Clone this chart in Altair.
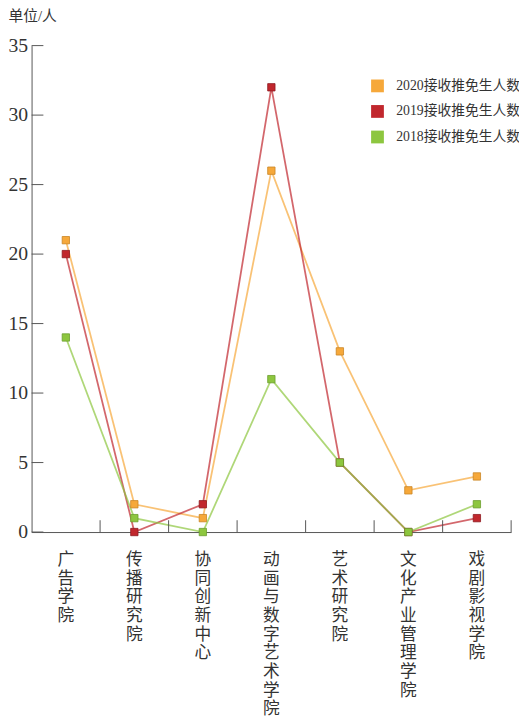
import altair as alt
import pandas as pd

# x categories, left to right
colleges = ["广告学院", "传播研究院", "协同创新中心", "动画与数字艺术学院",
            "艺术研究院", "文化产业管理学院", "戏剧影视学院"]

# values
y2020 = [21, 2, 1, 26, 13, 3, 4]
y2019 = [20, 0, 2, 32, 5, 0, 1]
y2018 = [14, 1, 0, 11, 5, 0, 2]

series = ["2020接收推免生人数", "2019接收推免生人数", "2018接收推免生人数"]
fill_colors = ["#f6a83a", "#c1272d", "#8dc63f"]
edge_colors = ["#c98524", "#8e1a20", "#6b9e2c"]

y_ticks = [0, 5, 10, 15, 20, 25, 30, 35]

rows = []
for name, values in zip(series, [y2020, y2019, y2018]):
    for i, (college, v) in enumerate(zip(colleges, values)):
        rows.append({"学院": college, "系列": name, "线": name, "边框": name, "人数": v, "idx": i})
data = pd.DataFrame(rows)
ticks = pd.DataFrame({"人数": y_ticks})
cats = pd.DataFrame({"学院": colleges})

W, H = 488, 495
FONT = "Liberation Serif, Noto Sans CJK SC"
AXIS_COLOR = "#555555"

x_scale = alt.Scale(type="band", domain=colleges, paddingInner=0, paddingOuter=0)
y_scale = alt.Scale(domain=[0, 35], nice=False)

x_axis = alt.Axis(
    title=None, ticks=False, tickSize=0, labelAngle=0,
    labelExpr="split(datum.label, '')", labelBaseline="top", labelAlign="center",
    labelFontSize=17, labelLineHeight=19, labelPadding=20, labelColor="#333333",
    labelOverlap=False, labelLimit=0, domainColor=AXIS_COLOR, grid=False,
)
y_axis = alt.Axis(
    values=y_ticks, ticks=False, tickSize=0, grid=False,
    labelFontSize=20, labelPadding=4, labelColor="#333333", domainColor=AXIS_COLOR,
    title="单位/人", titleAngle=0, titleAlign="left", titleBaseline="top",
    titleX=-24, titleY=-38, titleFontSize=15, titleFontWeight="normal",
    titleColor="#333333",
)

X = alt.X("学院:N", scale=x_scale, bandPosition=0.5, axis=x_axis)
Y = alt.Y("人数:Q", scale=y_scale, axis=y_axis)

# line and edge scales take their domain from the data (sorted 2018, 2019, 2020)
# so that Vega-Lite does not merge them into the fill legend
lines = (
    alt.Chart(data)
    .mark_line(opacity=0.7, strokeWidth=1.8)
    .encode(
        x=X,
        y=Y,
        color=alt.Color("线:N", scale=alt.Scale(range=fill_colors[::-1]), legend=None),
        order=alt.Order("idx:Q"),
    )
)

squares = (
    alt.Chart(data)
    .mark_square(size=56, strokeWidth=0.8, opacity=1)
    .encode(
        x=X,
        y=Y,
        fill=alt.Fill(
            "系列:N",
            scale=alt.Scale(domain=series, range=fill_colors),
            legend=alt.Legend(
                title=None, orient="none", legendX=345, legendY=34, padding=0,
                symbolType="square", symbolSize=169, symbolStrokeWidth=0,
                labelFontSize=14, labelFont=FONT, labelColor="#333333",
                rowPadding=12, labelOffset=12,
            ),
        ),
        stroke=alt.Stroke("边框:N", scale=alt.Scale(range=edge_colors[::-1]), legend=None),
    )
)

# inward ticks on the y axis
y_tick_marks = (
    alt.Chart(ticks)
    .mark_rule(color=AXIS_COLOR, strokeWidth=1)
    .encode(y=Y, x=alt.value(0), x2=alt.value(12))
)

# inward ticks between categories on the x axis
x_tick_marks = (
    alt.Chart(cats)
    .mark_rule(color=AXIS_COLOR, strokeWidth=1)
    .encode(
        x=alt.X("学院:N", scale=x_scale, bandPosition=1, axis=x_axis),
        y=alt.value(H),
        y2=alt.value(H - 12),
    )
)

chart = (
    alt.layer(lines, squares, y_tick_marks, x_tick_marks)
    .properties(
        width=W, height=H, autosize="none",
        padding={"left": 24, "top": 32, "right": 8, "bottom": 185},
    )
    .configure_view(stroke=None)
    .configure_axis(labelFont=FONT, titleFont=FONT)
)

chart.save("out.html", embed_options={"renderer": "svg", "actions": False})
